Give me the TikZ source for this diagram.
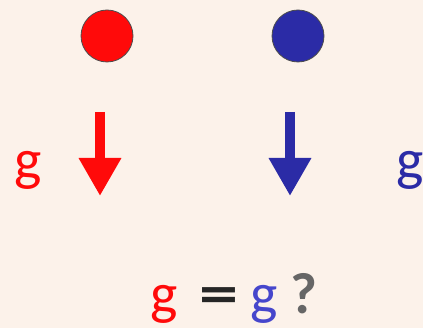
\documentclass[tikz,border=0pt]{standalone}
\usepackage{fontspec}
\setmainfont{Carlito}
\usetikzlibrary{arrows.meta}
\definecolor{bg}{HTML}{FCF2EA}
\definecolor{myred}{HTML}{FF0A0A}
\definecolor{myblue}{HTML}{2B2BA6}
\definecolor{lblue}{HTML}{4646CC}
\tikzset{
  ball/.style={circle, minimum size=52pt, inner sep=0pt, draw=black!70, line width=0.8pt},
  garrow/.style={line width=10pt, -{Triangle[length=38pt,width=40pt]}},
  glabel/.style={font=\fontsize{58}{58}\selectfont, inner sep=0pt}
}
\begin{document}
\begin{tikzpicture}[x=1pt,y=-1pt]
\fill[bg] (0,0) rectangle (423,328);
\useasboundingbox (0,0) rectangle (423,328);
\node[ball, fill=myred] (rb) at (107,36) {};
\node[ball, fill=myblue] (bb) at (298,36) {};
\coordinate (ra1) at (100,112);
\coordinate (ra2) at (100,196);
\coordinate (ba1) at (290,112);
\coordinate (ba2) at (290,196);
\draw[garrow, myred] (ra1) -- (ra2);
\draw[garrow, myblue] (ba1) -- (ba2);
\node[glabel, text=myred, anchor=base] (rg) at (28,180) {g};
\node[glabel, text=myblue, anchor=base] (bg) at (410,180) {g};
\node[glabel, text=myred, anchor=base] (g1) at (164,314) {g};
\node[glabel, text=black!85, anchor=base] (eq) at (219,314) {\bfseries\scalebox{1.35}[1]{=}};
\node[glabel, text=lblue, anchor=base] (g2) at (264,314) {g};
\node[glabel, text=black!60, anchor=base] (q) at (304,314) {\bfseries ?};
\end{tikzpicture}
\end{document}
